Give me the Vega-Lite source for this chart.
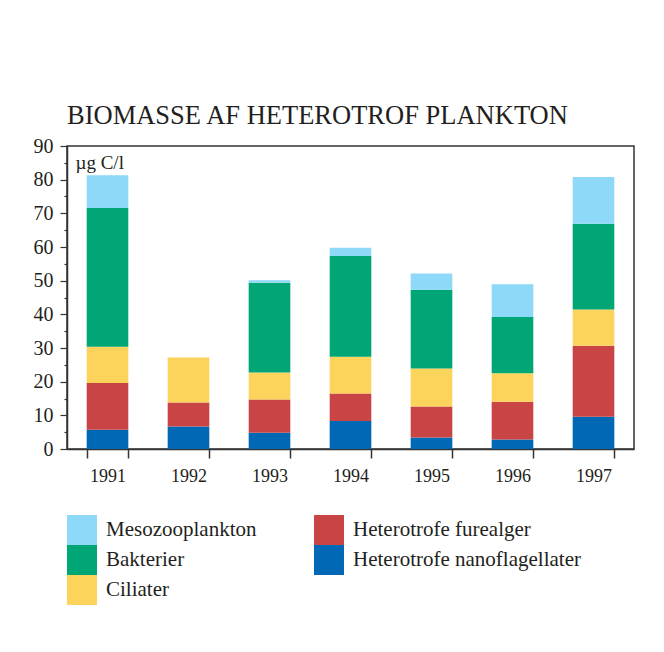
{
  "$schema": "https://vega.github.io/schema/vega-lite/v6.json",
  "autosize": {"type": "none"},
  "padding": {"left": 67, "top": 146, "right": 30, "bottom": 203},
  "width": 567,
  "height": 303,
  "background": "white",
  "title": {
    "text": "BIOMASSE AF HETEROTROF PLANKTON",
    "anchor": "start",
    "frame": "group",
    "font": "Liberation Serif",
    "fontSize": 26.5,
    "fontWeight": "normal",
    "color": "#231f20",
    "offset": 7
  },
  "config": {
    "view": {"stroke": "#333", "strokeWidth": 1.5},
    "font": "Liberation Serif"
  },
  "data": {
    "values": [
      {"year": "1991", "group": "Heterotrofe nanoflagellater", "value": 5.7},
      {"year": "1991", "group": "Heterotrofe furealger", "value": 13.9},
      {"year": "1991", "group": "Ciliater", "value": 10.8},
      {"year": "1991", "group": "Bakterier", "value": 41.2},
      {"year": "1991", "group": "Mesozooplankton", "value": 9.7},
      {"year": "1992", "group": "Heterotrofe nanoflagellater", "value": 6.7},
      {"year": "1992", "group": "Heterotrofe furealger", "value": 7.1},
      {"year": "1992", "group": "Ciliater", "value": 13.4},
      {"year": "1993", "group": "Heterotrofe nanoflagellater", "value": 4.8},
      {"year": "1993", "group": "Heterotrofe furealger", "value": 9.9},
      {"year": "1993", "group": "Ciliater", "value": 8.0},
      {"year": "1993", "group": "Bakterier", "value": 26.7},
      {"year": "1993", "group": "Mesozooplankton", "value": 0.7},
      {"year": "1994", "group": "Heterotrofe nanoflagellater", "value": 8.3},
      {"year": "1994", "group": "Heterotrofe furealger", "value": 8.2},
      {"year": "1994", "group": "Ciliater", "value": 10.9},
      {"year": "1994", "group": "Bakterier", "value": 29.9},
      {"year": "1994", "group": "Mesozooplankton", "value": 2.5},
      {"year": "1995", "group": "Heterotrofe nanoflagellater", "value": 3.4},
      {"year": "1995", "group": "Heterotrofe furealger", "value": 9.2},
      {"year": "1995", "group": "Ciliater", "value": 11.3},
      {"year": "1995", "group": "Bakterier", "value": 23.4},
      {"year": "1995", "group": "Mesozooplankton", "value": 4.8},
      {"year": "1996", "group": "Heterotrofe nanoflagellater", "value": 2.8},
      {"year": "1996", "group": "Heterotrofe furealger", "value": 11.2},
      {"year": "1996", "group": "Ciliater", "value": 8.5},
      {"year": "1996", "group": "Bakterier", "value": 16.7},
      {"year": "1996", "group": "Mesozooplankton", "value": 9.7},
      {"year": "1997", "group": "Heterotrofe nanoflagellater", "value": 9.6},
      {"year": "1997", "group": "Heterotrofe furealger", "value": 21.1},
      {"year": "1997", "group": "Ciliater", "value": 10.7},
      {"year": "1997", "group": "Bakterier", "value": 25.5},
      {"year": "1997", "group": "Mesozooplankton", "value": 13.9}
    ]
  },
  "transform": [
    {"calculate": "indexof(['Heterotrofe nanoflagellater','Heterotrofe furealger','Ciliater','Bakterier','Mesozooplankton'], datum.group)", "as": "stackOrder"}
  ],
  "mark": {"type": "bar"},
  "encoding": {
    "x": {
      "field": "year",
      "type": "ordinal",
      "scale": {"paddingInner": 0.486, "paddingOuter": 0.243},
      "axis": {
        "title": null,
        "labelAngle": 0,
        "labelFont": "Liberation Serif",
        "labelFontSize": 18,
        "labelColor": "#231f20",
        "labelPadding": 9,
        "tickBand": "extent",
        "tickSize": 9,
        "tickColor": "#333",
        "tickWidth": 1.5,
        "domainColor": "#333",
        "domainWidth": 1.5
      }
    },
    "y": {
      "field": "value",
      "type": "quantitative",
      "stack": "zero",
      "scale": {"domain": [0, 90], "nice": false},
      "axis": {
        "title": "µg C/l",
        "titleAngle": 0,
        "titleAlign": "left",
        "titleBaseline": "alphabetic",
        "titleX": 8,
        "titleY": 22,
        "titleFont": "Liberation Serif",
        "titleFontSize": 19,
        "titleFontWeight": "normal",
        "titleColor": "#231f20",
        "values": [0, 5, 10, 15, 20, 25, 30, 35, 40, 45, 50, 55, 60, 65, 70, 75, 80, 85, 90],
        "labelExpr": "datum.value % 10 === 0 ? datum.label : ''",
        "labelFont": "Liberation Serif",
        "labelFontSize": 20,
        "labelColor": "#231f20",
        "labelPadding": 7,
        "tickSize": {"condition": {"test": "datum.value % 10 === 0", "value": 7}, "value": 3},
        "tickColor": "#333",
        "tickWidth": 1.2,
        "domainColor": "#333",
        "domainWidth": 1.5,
        "grid": false
      }
    },
    "color": {
      "field": "group",
      "type": "nominal",
      "scale": {
        "domain": ["Mesozooplankton", "Bakterier", "Ciliater", "Heterotrofe furealger", "Heterotrofe nanoflagellater"],
        "range": ["#8ED8F8", "#00A676", "#FCD45C", "#C94545", "#0068B4"]
      },
      "legend": {
        "title": null,
        "orient": "none",
        "legendX": 0,
        "legendY": 369,
        "columns": 2,
        "columnPadding": 57,
        "rowPadding": 0,
        "padding": 0,
        "symbolType": "square",
        "symbolSize": 900,
        "symbolStrokeWidth": 0,
        "symbolOpacity": 1,
        "labelFont": "Liberation Serif",
        "labelFontSize": 21,
        "labelColor": "#231f20",
        "labelOffset": 9,
        "labelLimit": 400
      }
    },
    "order": {"field": "stackOrder", "type": "quantitative", "sort": "ascending"}
  }
}
